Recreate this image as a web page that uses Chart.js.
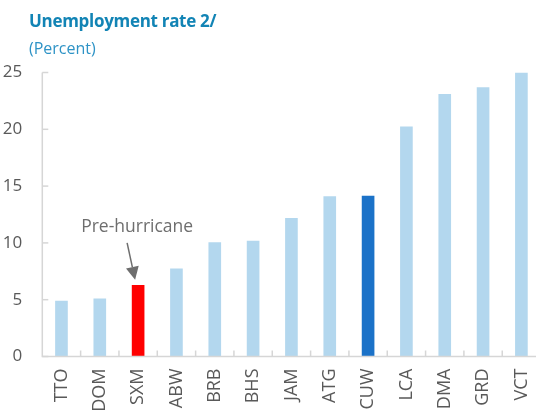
<!DOCTYPE html>
<html>
<head>
<meta charset="utf-8">
<script src="https://cdn.jsdelivr.net/npm/chart.js@4.4.1/dist/chart.umd.min.js"></script>
<style>
  html, body { margin: 0; padding: 0; background: #ffffff; overflow: hidden; width: 536px; height: 415px; }
  #wrap { position: relative; width: 536px; height: 415px; overflow: hidden; }
  canvas { position: absolute; left: 0; top: 0; }
  .title { position: absolute; left: 29px; top: 9px; font-family: "Open Sans", sans-serif; font-weight: 700; font-size: 17px; color: #1284b5; letter-spacing: -0.3px; white-space: nowrap; }
  .sub { position: absolute; left: 29px; top: 37px; font-family: "Open Sans", sans-serif; font-size: 16px; color: #2e93c6; white-space: nowrap; }
</style>
</head>
<body>
<div id="wrap">
  <canvas id="c" width="560" height="415"></canvas>
  <div class="title">Unemployment rate 2/</div>
  <div class="sub">(Percent)</div>
</div>
<script>
const categories = ["TTO","DOM","SXM","ABW","BRB","BHS","JAM","ATG","CUW","LCA","DMA","GRD","VCT"];
const unemployment = [4.9, 5.1, 6.3, 7.75, 10.05, 10.2, 12.2, 14.1, 14.15, 20.25, 23.1, 23.7, 25.0];
const yTicks = [0, 5, 10, 15, 20, 25];
const highlightRed = "SXM";
const highlightBlue = "CUW";
const annotationText = "Pre-hurricane";

const barColors = categories.map(c => c === highlightRed ? "#ff0000" : (c === highlightBlue ? "#1b72c8" : "#b3d7ee"));

let xAxisH = 58.5;
let yTopPad = 72;

const innerTicks = {
  id: "innerTicks",
  afterDraw(chart) {
    const ctx = chart.ctx;
    const x = chart.scales.x, y = chart.scales.y;
    const area = chart.chartArea;
    ctx.save();
    ctx.strokeStyle = "#d6d6d6";
    ctx.lineWidth = 1.5;
    ctx.beginPath();
    ctx.moveTo(area.left, area.top);
    ctx.lineTo(area.left, area.bottom);
    ctx.lineTo(area.right, area.bottom);
    ctx.stroke();
    yTicks.forEach(v => {
      const py = y.getPixelForValue(v);
      ctx.beginPath();
      ctx.moveTo(area.left, py);
      ctx.lineTo(area.left + 6, py);
      ctx.stroke();
    });
    for (let i = 1; i <= categories.length; i++) {
      const px = (x.getPixelForValue(i - 1) + x.getPixelForValue(i)) / 2;
      ctx.beginPath();
      ctx.moveTo(px, area.bottom);
      ctx.lineTo(px, area.bottom - 6);
      ctx.stroke();
    }
    const idx = categories.indexOf(highlightRed);
    const cx = x.getPixelForValue(idx);
    ctx.fillStyle = "#6e6e6e";
    ctx.font = "17.5px 'Open Sans', sans-serif";
    ctx.textAlign = "center";
    ctx.textBaseline = "alphabetic";
    ctx.fillText(annotationText, cx - 1, y.getPixelForValue(10.95));
    const sx = cx - 11, sy = y.getPixelForValue(10.0);
    const tx = cx - 3, ty = y.getPixelForValue(6.75);
    const ang = Math.atan2(ty - sy, tx - sx);
    const headLen = 13, headW = 6.5;
    const bx = tx - headLen * Math.cos(ang), by = ty - headLen * Math.sin(ang);
    ctx.strokeStyle = "#6e6e6e";
    ctx.lineWidth = 1.5;
    ctx.beginPath();
    ctx.moveTo(sx, sy);
    ctx.lineTo(bx, by);
    ctx.stroke();
    ctx.beginPath();
    ctx.moveTo(tx, ty);
    ctx.lineTo(bx + headW * Math.sin(ang), by - headW * Math.cos(ang));
    ctx.lineTo(bx - headW * Math.sin(ang), by + headW * Math.cos(ang));
    ctx.closePath();
    ctx.fill();
    ctx.restore();
  }
};

const chart = new Chart(document.getElementById("c"), {
  type: "bar",
  data: {
    labels: categories,
    datasets: [{
      data: unemployment,
      backgroundColor: barColors,
      borderWidth: 0,
      barPercentage: 0.33,
      categoryPercentage: 1.0
    }]
  },
  options: {
    responsive: false,
    animation: false,
    layout: { padding: { top: 72, right: 0, left: 0, bottom: 0 } },
    plugins: { legend: { display: false }, tooltip: { enabled: false } },
    scales: {
      x: {
        grid: { display: false, drawTicks: false },
        border: { display: false },
        ticks: {
          color: "#595959",
          font: { family: "'Open Sans', sans-serif", size: 18 },
          minRotation: 90, maxRotation: 90,
          padding: 12,
          autoSkip: false
        },
        afterFit(s) { s.height = xAxisH; }
      },
      y: {
        min: 0, max: 25,
        grid: { display: false, drawTicks: false },
        border: { display: false },
        afterBuildTicks(s) { s.ticks = yTicks.map(v => ({ value: v })); },
        ticks: {
          color: "#595959",
          font: { family: "'Open Sans', sans-serif", size: 17 },
          padding: 20
        },
        afterFit(s) { s.width = 42.3; }
      }
    }
  },
  plugins: [innerTicks]
});
// fit the plot area to the reference frame: left 42.3, top 72.5, bottom 356.5, right ~541 (cropped)
(function fitFrame() {
  for (let k = 0; k < 3; k++) {
    const a = chart.chartArea;
    const dR = a.right - 541;
    const dB = a.bottom - 356.5;
    const dT = a.top - 72.5;
    if (Math.abs(dR) < 0.5 && Math.abs(dB) < 0.5 && Math.abs(dT) < 0.5) break;
    xAxisH += dB;
    chart.options.layout.padding.top -= dT;
    const c = document.getElementById("c");
    chart.resize(Math.round(c.width - dR), 415);
    chart.update();
  }
})();
</script>
</body>
</html>
